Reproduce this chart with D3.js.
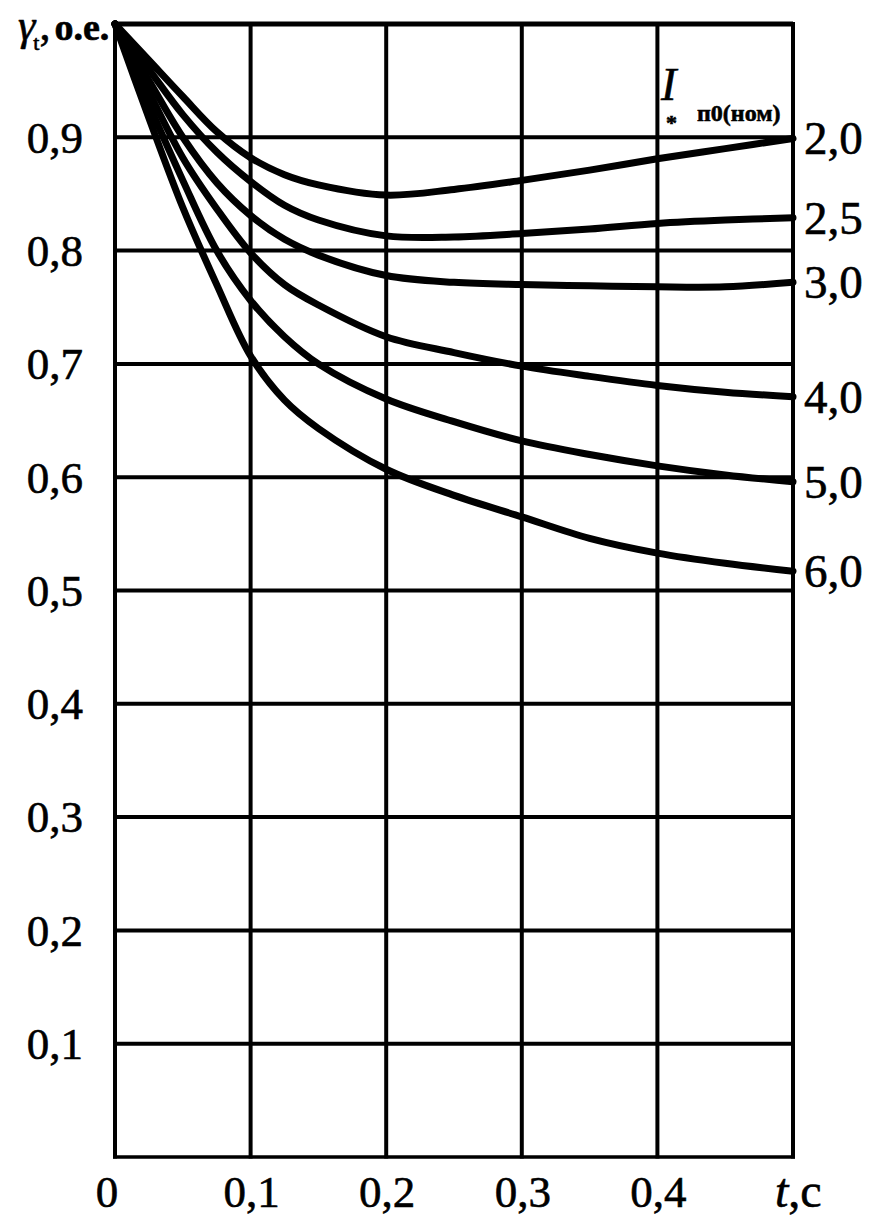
<!DOCTYPE html>
<html>
<head>
<meta charset="utf-8">
<script src="https://cdn.jsdelivr.net/npm/d3@7"></script>
<style>
  html, body { margin: 0; padding: 0; background: #fff; }
  svg { display: block; }
  text { font-family: "Liberation Serif", "DejaVu Serif", serif; fill: #000; stroke: #000; stroke-width: 0.6px; }
</style>
</head>
<body>
<svg id="chart" width="890" height="1230"></svg>
<script>
// ---- data ----
const tValues = [0, 0.025, 0.05, 0.075, 0.1, 0.125, 0.15, 0.2, 0.25, 0.3, 0.35, 0.4, 0.45, 0.5];
const curveNames = ["2,0", "2,5", "3,0", "4,0", "5,0", "6,0"];
const gamma_2_0 = [1, 0.968, 0.936, 0.905, 0.882, 0.867, 0.858, 0.849, 0.854, 0.862, 0.871, 0.881, 0.890, 0.899];
const gamma_2_5 = [1, 0.960, 0.920, 0.887, 0.861, 0.840, 0.827, 0.813, 0.812, 0.815, 0.819, 0.824, 0.827, 0.829];
const gamma_3_0 = [1, 0.950, 0.900, 0.860, 0.831, 0.810, 0.796, 0.778, 0.772, 0.770, 0.769, 0.768, 0.768, 0.772];
const gamma_4_0 = [1, 0.940, 0.882, 0.837, 0.798, 0.770, 0.752, 0.724, 0.710, 0.698, 0.689, 0.681, 0.675, 0.671];
const gamma_5_0 = [1, 0.929, 0.862, 0.800, 0.756, 0.724, 0.700, 0.669, 0.649, 0.632, 0.620, 0.610, 0.602, 0.596];
const gamma_6_0 = [1, 0.917, 0.838, 0.770, 0.707, 0.668, 0.643, 0.607, 0.584, 0.565, 0.546, 0.533, 0.524, 0.517];
const seriesValues = [gamma_2_0, gamma_2_5, gamma_3_0, gamma_4_0, gamma_5_0, gamma_6_0];

const xTicks = [0, 0.1, 0.2, 0.3, 0.4, 0.5];
const xTickLabels = ["0", "0,1", "0,2", "0,3", "0,4", ""];
const yTicks = [0.1, 0.2, 0.3, 0.4, 0.5, 0.6, 0.7, 0.8, 0.9, 1.0];
const yTickLabels = ["0,1", "0,2", "0,3", "0,4", "0,5", "0,6", "0,7", "0,8", "0,9", ""];

// ---- layout ----
const svg = d3.select("#chart");
const x = d3.scaleLinear().domain([0, 0.5]).range([115, 793]);
const y = d3.scaleLinear().domain([0, 1]).range([1157, 24]);

// grid: vertical lines
svg.append("g").selectAll("line").data(xTicks).join("line")
  .attr("x1", d => x(d)).attr("x2", d => x(d))
  .attr("y1", y(1) - 2).attr("y2", y(0) + 1.5)
  .attr("stroke", "#000").attr("stroke-width", 4);

// grid: horizontal lines
svg.append("g").selectAll("line").data(yTicks).join("line")
  .attr("x1", x(0)).attr("x2", x(0.5))
  .attr("y1", d => y(d)).attr("y2", d => y(d))
  .attr("stroke", "#000").attr("stroke-width", d => d === 1 ? 5 : 4);

// bottom frame
svg.append("line")
  .attr("x1", x(0) - 2).attr("x2", x(0.5) + 2)
  .attr("y1", y(0)).attr("y2", y(0))
  .attr("stroke", "#000").attr("stroke-width", 3.5);

// curves
const line = d3.line()
  .x((d, i) => x(tValues[i]))
  .y(d => y(d))
  .curve(d3.curveCatmullRom.alpha(0.5));

svg.append("g").selectAll("path").data(seriesValues).join("path")
  .attr("d", d => line(d))
  .attr("fill", "none")
  .attr("stroke", "#000")
  .attr("stroke-width", 7)
  .attr("stroke-linejoin", "round")
  .attr("stroke-linecap", "round");

// left tick labels
svg.append("g").selectAll("text").data(yTicks.filter((d, i) => yTickLabels[i] !== "")).join("text")
  .attr("x", 83)
  .attr("y", d => y(d))
  .attr("dy", "0.34em")
  .attr("text-anchor", "end")
  .attr("font-size", 45)
  .text((d, i) => yTickLabels[i]);

// bottom tick labels
svg.append("g").selectAll("text").data(xTicks.filter((d, i) => xTickLabels[i] !== "")).join("text")
  .attr("x", d => d === 0 ? x(d) - 8 : x(d) + 1)
  .attr("y", 1207)
  .attr("text-anchor", "middle")
  .attr("font-size", 45)
  .text((d, i) => xTickLabels[i]);

// x axis title "t,c"
const xt = svg.append("text").attr("x", 775).attr("y", 1207).attr("font-size", 48);
xt.append("tspan").attr("font-style", "italic").text("t");
xt.append("tspan").text(",c");

// y axis title "γt, o.e."
const yt = svg.append("text").attr("x", 18).attr("y", 40).attr("font-size", 44);
yt.append("tspan").attr("font-style", "italic").text("γ");
yt.append("tspan").attr("font-size", 22).attr("dy", 10).attr("dx", -2).text("t");
yt.append("tspan").attr("dy", -10).text(",");
yt.append("tspan").attr("dx", 4).attr("font-size", 38).attr("font-weight", "bold").text("o.e.");

// right curve labels
svg.append("g").selectAll("text").data(seriesValues).join("text")
  .attr("x", 804)
  .attr("y", d => y(d[d.length - 1]))
  .attr("dy", "0.34em")
  .attr("font-size", 47)
  .text((d, i) => curveNames[i]);

// legend header "I* п0(ном)"
svg.append("text").attr("x", 661).attr("y", 100)
  .attr("font-size", 46).attr("font-style", "italic").text("I");
svg.append("text").attr("x", 666).attr("y", 130)
  .attr("font-size", 22).attr("font-weight", "bold").text("*");
svg.append("text").attr("x", 697).attr("y", 121)
  .attr("font-size", 24).attr("font-weight", "bold").text("п0(ном)");
</script>
</body>
</html>
